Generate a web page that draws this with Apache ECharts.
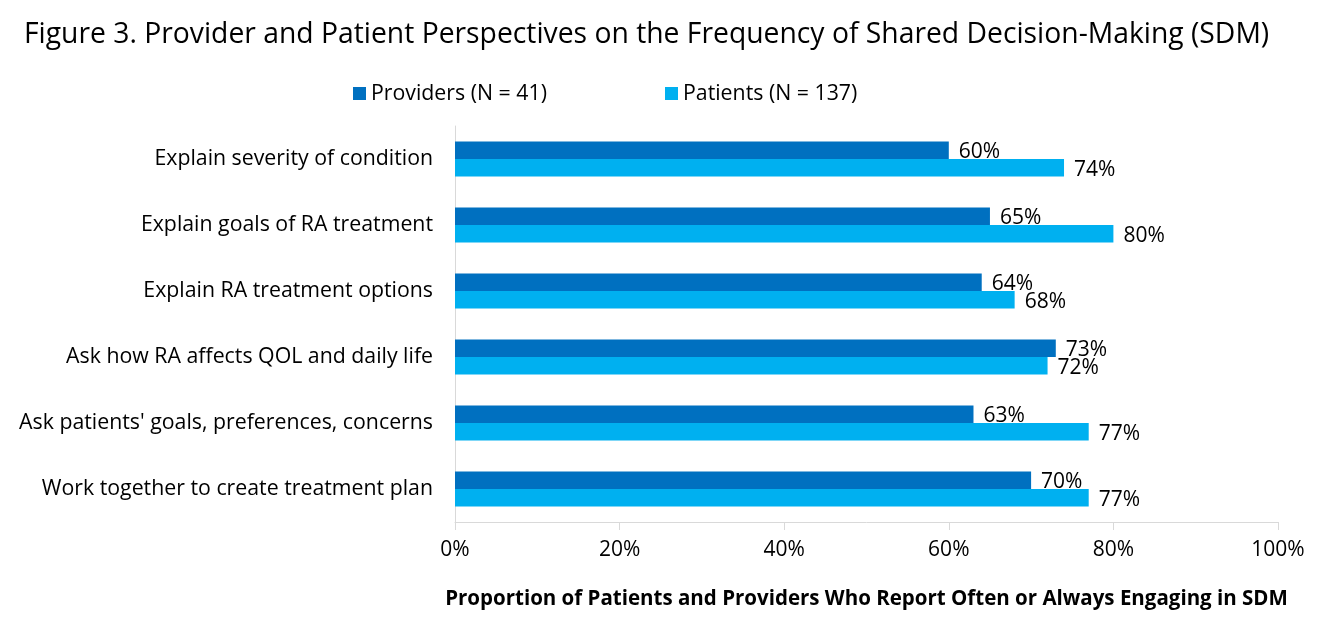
<!DOCTYPE html>
<html>
<head>
<meta charset="utf-8">
<script src="https://cdn.jsdelivr.net/npm/echarts@6/dist/echarts.min.js"></script>
<style>html,body{margin:0;padding:0;background:#fff}#c{width:1317px;height:631px}</style>
</head>
<body>
<div id="c"></div>
<script>
var categories = [
  "Explain severity of condition",
  "Explain goals of RA treatment",
  "Explain RA treatment options",
  "Ask how RA affects QOL and daily life",
  "Ask patients' goals, preferences, concerns",
  "Work together to create treatment plan"
];
var providers = [60, 65, 64, 73, 63, 70];
var patients = [74, 80, 68, 72, 77, 77];
var xTicks = [0, 20, 40, 60, 80, 100];
var seriesNames = ["Providers (N = 41)", "Patients (N = 137)"];
var FONT = "'Open Sans', Lato, sans-serif";

var chart = echarts.init(document.getElementById('c'));
chart.setOption({
  animation: false,
  backgroundColor: '#ffffff',
  title: {
    text: "Figure 3. Provider and Patient Perspectives on the Frequency of Shared Decision-Making (SDM)",
    left: 19, top: 16,
    textStyle: {fontFamily: FONT, fontSize: 28.3, fontWeight: 'normal', color: '#000'}
  },
  legend: [
    {data: [seriesNames[0]], left: 348, top: 78, itemWidth: 13, itemHeight: 13, itemGap: 8,
     icon: 'rect', textStyle: {fontFamily: FONT, fontSize: 21.3, color: '#000'}},
    {data: [seriesNames[1]], left: 660, top: 78, itemWidth: 13, itemHeight: 13, itemGap: 8,
     icon: 'rect', textStyle: {fontFamily: FONT, fontSize: 21.3, color: '#000'}}
  ],
  grid: {left: 455, right: 39, top: 126, bottom: 109, containLabel: false},
  xAxis: {
    type: 'value', min: 0, max: 100, interval: 20,
    name: "Proportion of Patients and Providers Who Report Often or Always Engaging in SDM",
    nameLocation: 'middle', nameGap: 67,
    nameTextStyle: {fontFamily: FONT, fontSize: 20.5, fontWeight: 'bold', color: '#000'},
    axisLine: {show: true, lineStyle: {color: '#d9d9d9', width: 1}},
    axisTick: {show: true, length: 8, lineStyle: {color: '#d9d9d9'}},
    splitLine: {show: false},
    axisLabel: {fontFamily: FONT, fontSize: 21, color: '#000', margin: 18,
      formatter: function (v) { return xTicks.indexOf(v) >= 0 ? v + '%' : ''; }}
  },
  yAxis: {
    type: 'category', data: categories, inverse: true,
    axisLine: {show: true, lineStyle: {color: '#d9d9d9', width: 1}},
    axisTick: {show: false},
    axisLabel: {fontFamily: FONT, fontSize: 21.3, color: '#000', margin: 22}
  },
  series: [
    {name: seriesNames[0], type: 'bar', data: providers, barWidth: 17.5, barGap: '0%',
     itemStyle: {color: '#0070C0'},
     label: {show: true, position: 'right', distance: 10, formatter: '{c}%',
       fontFamily: FONT, fontSize: 21, color: '#000', offset: [0, 2]}},
    {name: seriesNames[1], type: 'bar', data: patients, barWidth: 17.5, barGap: '0%',
     itemStyle: {color: '#00B0F0'},
     label: {show: true, position: 'right', distance: 10, formatter: '{c}%',
       fontFamily: FONT, fontSize: 21, color: '#000', offset: [0, 2]}}
  ]
});
</script>
</body>
</html>
